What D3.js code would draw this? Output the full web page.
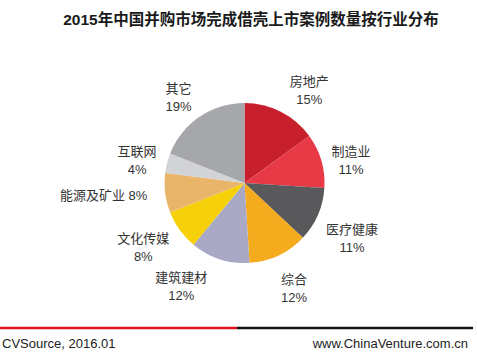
<!DOCTYPE html>
<html lang="zh">
<head>
    <meta charset="UTF-8">
    <title>2015年中国并购市场完成借壳上市案例数量按行业分布</title>
    <script src="https://d3js.org/d3.v7.min.js"></script>
    <style>
        body {
            margin: 0;
            background: #fff;
            font-family: "Liberation Sans", Arial, "Noto Sans CJK SC", sans-serif;
        }
        .title {
            font-size: 15.5px;
            font-weight: bold;
            fill: #1a1a1a;
            text-anchor: middle;
        }
        .label {
            font-size: 13px;
            fill: #333;
        }
        .foot {
            font-size: 13px;
            fill: #222;
        }
    </style>
</head>
<body>
    <svg width="477" height="353"></svg>
    <script>
        const industries = ["房地产", "制造业", "医疗健康", "综合", "建筑建材", "文化传媒", "能源及矿业", "互联网", "其它"];
        const shares = [15, 11, 11, 12, 12, 8, 8, 4, 19];
        const colors = ["#c71f2b", "#e83947", "#59595b", "#f4ab1d", "#a9a9c5", "#f6d10a", "#e8b56b", "#d1d3d6", "#a6a7ab"];

        const data = industries.map((name, i) => ({ name, value: shares[i], color: colors[i] }));

        const svg = d3.select("svg");
        const cx = 244.5, cy = 183, radius = 80;

        svg.append("text")
            .attr("class", "title")
            .attr("x", 251)
            .attr("y", 25)
            .text("2015年中国并购市场完成借壳上市案例数量按行业分布");

        const pie = d3.pie().value(d => d.value).sort(null);
        const arc = d3.arc().innerRadius(0).outerRadius(radius);
        const labelArc = d3.arc().innerRadius(114).outerRadius(114);

        const g = svg.append("g").attr("transform", `translate(${cx},${cy})`);
        const arcs = pie(data);

        g.selectAll("path")
            .data(arcs)
            .enter().append("path")
            .attr("d", arc)
            .attr("fill", d => d.data.color);

        // hand nudges so labels sit where the original put them
        const nudge = {
            "房地产": [13, 9], "制造业": [-3, 9], "医疗健康": [3, 10], "综合": [1, 2],
            "建筑建材": [-28, -5], "文化传媒": [-9, -3], "互联网": [3, 5], "其它": [-2, 8]
        };

        arcs.forEach(d => {
            let [lx, ly] = labelArc.centroid(d);
            if (d.data.name === "能源及矿业") {
                g.append("text")
                    .attr("class", "label")
                    .attr("x", lx + 16)
                    .attr("y", ly + 3)
                    .attr("text-anchor", "end")
                    .text(`${d.data.name} ${d.data.value}%`);
                return;
            }
            const n = nudge[d.data.name] || [0, 0];
            lx += n[0]; ly += n[1];
            const t = g.append("text")
                .attr("class", "label")
                .attr("text-anchor", "middle")
                .attr("x", lx)
                .attr("y", ly - 4);
            t.append("tspan").attr("x", lx).text(d.data.name);
            t.append("tspan").attr("x", lx).attr("dy", 18).text(d.data.value + "%");
        });

        // footer
        svg.append("line").attr("x1", 0).attr("x2", 237).attr("y1", 328).attr("y2", 328)
            .attr("stroke", "#e2161d").attr("stroke-width", 2.5);
        svg.append("line").attr("x1", 237).attr("x2", 473).attr("y1", 328).attr("y2", 328)
            .attr("stroke", "#111").attr("stroke-width", 2.5);

        svg.append("text").attr("class", "foot").attr("x", 2).attr("y", 348)
            .text("CVSource, 2016.01");
        svg.append("text").attr("class", "foot").attr("x", 468).attr("y", 348)
            .attr("text-anchor", "end")
            .text("www.ChinaVenture.com.cn");
    </script>
</body>
</html>
